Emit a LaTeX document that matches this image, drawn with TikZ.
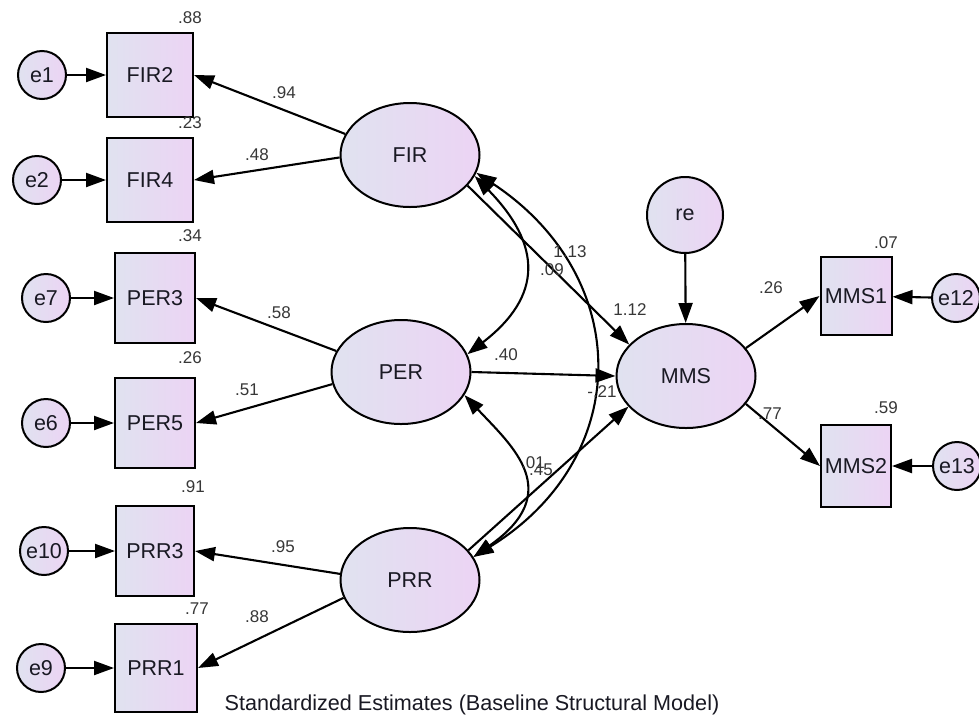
\documentclass[tikz,border=0pt]{standalone}
\usepackage{fontspec}
\setmainfont{Liberation Sans}
\usetikzlibrary{shapes.geometric,arrows.meta}
\definecolor{lavL}{RGB}{224,226,240}
\definecolor{lavR}{RGB}{236,212,244}
\definecolor{txt}{RGB}{25,25,35}
\definecolor{lbltxt}{RGB}{55,55,55}
\begin{document}
\begin{tikzpicture}[x=1pt,y=-1pt,
  every node/.style={font=\fontsize{21.5}{23}\selectfont, text=txt},
  lavfill/.style={left color=lavL, right color=lavR},
  latent/.style={ellipse, draw, line width=2pt, lavfill, minimum width=139pt, minimum height=104pt, inner sep=0pt},
  obs/.style={rectangle, draw, line width=2pt, lavfill, inner sep=0pt},
  err/.style={circle, draw, line width=2pt, lavfill, minimum size=48pt, inner sep=0pt},
  lbl/.style={font=\fontsize{17}{19}\selectfont, text=lbltxt, inner sep=0pt},
  conn/.style={line width=2.1pt, -{Triangle[length=20pt,width=14pt]}},
  cov/.style={line width=2.1pt, {Triangle[length=20pt,width=14pt]}-{Triangle[length=20pt,width=14pt]}},
]
\fill[white] (0,0) rectangle (979,721);
\useasboundingbox (0,0) rectangle (979,721);

% latent variables
\node[latent] (FIR) at (410,155) {FIR};
\node[latent] (PER) at (401,372) {PER};
\node[latent] (PRR) at (410,580) {PRR};
\node[latent] (MMS) at (686,376) {MMS};
\node[err, minimum size=76pt] (re) at (685,215) {re};

% observed
\node[obs, minimum width=86pt, minimum height=84pt] (FIR2) at (150,75) {FIR2};
\node[obs, minimum width=86pt, minimum height=84pt] (FIR4) at (150,180) {FIR4};
\node[obs, minimum width=80pt, minimum height=90pt] (PER3) at (155,298) {PER3};
\node[obs, minimum width=80pt, minimum height=90pt] (PER5) at (155,423) {PER5};
\node[obs, minimum width=78pt, minimum height=90pt] (PRR3) at (155,551) {PRR3};
\node[obs, minimum width=82pt, minimum height=88pt] (PRR1) at (156,668) {PRR1};
\node[obs, minimum width=71pt, minimum height=78pt] (MMS1) at (856,296) {MMS1};
\node[obs, minimum width=70pt, minimum height=82pt] (MMS2) at (856,466) {MMS2};

% errors
\node[err] (e1) at (42,75) {e1};
\node[err] (e2) at (37,180) {e2};
\node[err] (e7) at (46,298) {e7};
\node[err] (e6) at (46,423) {e6};
\node[err] (e10) at (44,551) {e10};
\node[err] (e9) at (41,668) {e9};
\node[err] (e12) at (956,298) {e12};
\node[err] (e13) at (957,466) {e13};

% error arrows
\draw[conn] (e1) -- (FIR2);
\draw[conn] (e2) -- (FIR4);
\draw[conn] (e7) -- (PER3);
\draw[conn] (e6) -- (PER5);
\draw[conn] (e10) -- (PRR3);
\draw[conn] (e9) -- (PRR1);
\draw[conn] (e12) -- (MMS1);
\draw[conn] (e13) -- (MMS2);
\draw[conn] (re) -- (MMS);

% loadings
\draw[conn] (FIR.162) -- (FIR2.east);
\draw[conn] (FIR.182) -- (FIR4.east);
\draw[conn] (PER.162) -- (PER3.east);
\draw[conn] (PER.190) -- (PER5.east);
\draw[conn] (PRR.175) -- (PRR3.east);
\draw[conn] (PRR.195) -- (PRR1.east);
\draw[conn] (MMS.25) -- (MMS1.west);
\draw[conn] (MMS.335) -- (MMS2.west);

% structural paths
\draw[conn] (FIR.332) -- (MMS.151);
\draw[conn] (PER.east) -- (MMS.west);
\draw[conn] (PRR.27) -- (MMS.208);

% covariances
\draw[cov] (FIR.342) .. controls (542,245) and (543,296) .. (PER.15);
\draw[cov] (FIR.345) .. controls (634,277) and (634,458) .. (PRR.20);
\draw[cov] (PER.340) .. controls (512,446) and (566,492) .. (PRR.20);

% labels
\node[lbl] (l1) at (190,18) {.88};
\node[lbl] (l2) at (190,123) {.23};
\node[lbl] (l3) at (190,236) {.34};
\node[lbl] (l4) at (190,358) {.26};
\node[lbl] (l5) at (193,487) {.91};
\node[lbl] (l6) at (197,609) {.77};
\node[lbl] (l7) at (284,93) {.94};
\node[lbl] (l8) at (257,155) {.48};
\node[lbl] (l9) at (279,313) {.58};
\node[lbl] (l10) at (247,390) {.51};
\node[lbl] (l11) at (283,547) {.95};
\node[lbl] (l12) at (257,617) {.88};
\node[lbl] (l13) at (570,252) {1.13};
\node[lbl] (l14) at (552,270) {.09};
\node[lbl] (l15) at (506,355) {.40};
\node[lbl] (l16) at (602,392) {-.21};
\node[lbl] (l17) at (533,463) {.01};
\node[lbl] (l18) at (541,470) {.45};
\node[lbl] (l19) at (630,310) {1.12};
\node[lbl] (l20) at (771,288) {.26};
\node[lbl] (l21) at (770,414) {.77};
\node[lbl] (l22) at (886,243) {.07};
\node[lbl] (l23) at (886,408) {.59};

\node[font=\fontsize{21.6}{24}\selectfont, text=txt, inner sep=0pt] (title) at (472,705) {Standardized Estimates (Baseline Structural Model)};
\end{tikzpicture}
\end{document}
